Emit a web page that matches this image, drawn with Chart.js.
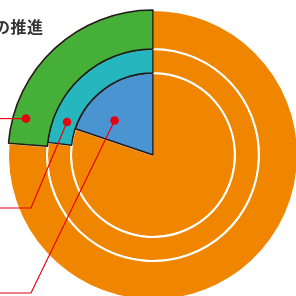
<!DOCTYPE html>
<html><head><meta charset="utf-8">
<script src="https://cdn.jsdelivr.net/npm/chart.js@4"></script>
<style>
html,body{margin:0;padding:0;width:296px;height:296px;overflow:hidden;background:#fff;}
#wrap{position:relative;width:296px;height:296px;overflow:hidden;}
#c{position:absolute;left:-2px;top:0;}
#title{position:absolute;left:-6px;top:14px;font:bold 16px "Noto Sans CJK JP","Noto Sans",sans-serif;color:#333;white-space:nowrap;letter-spacing:0.5px;}
</style></head>
<body><div id="wrap"><canvas id="c" width="310" height="310"></canvas><div id="title">の推進</div></div>
<script>
// ring labels (outer -> inner) and the highlighted share of each ring (%)
const rings = ['outer', 'middle', 'inner'];
const highlighted = [23.7, 23.1, 19.8];
const rest = highlighted.map(v => +(100 - v).toFixed(1));
const ringColors = ['#46AF37', '#26B7BE', '#4A94D2'];
const orange = '#F08600';
const ringWeights = [39, 24, 82];

// callout styling: dot angle (deg) / radial fraction inside the highlighted arc, elbow of leader line
const callouts = [
  {angle: 196, frac: 0.67, elbow: null},
  {angle: 201, frac: 0.42, elbow: [31, 208]},
  {angle: 222, frac: 0.63, elbow: [31, 293]}
];

const calloutPlugin = {
  id: 'callouts',
  afterDatasetsDraw(chart) {
    const ctx = chart.ctx;
    const cx = chart.canvas.offsetLeft;
    callouts.forEach((c, i) => {
      const arc = chart.getDatasetMeta(i).data[1];
      const p = arc.getProps(['x', 'y', 'innerRadius', 'outerRadius']);
      const r = p.innerRadius + c.frac * (p.outerRadius - p.innerRadius);
      const a = c.angle * Math.PI / 180;
      const dx = p.x + r * Math.cos(a), dy = p.y + r * Math.sin(a);
      ctx.save();
      ctx.strokeStyle = '#E60012';
      ctx.lineWidth = 1.2;
      ctx.beginPath();
      ctx.moveTo(dx, dy);
      if (c.elbow) {
        const ex = c.elbow[0] - cx, ey = c.elbow[1];
        ctx.lineTo(ex, ey);
        ctx.lineTo(-cx - 5, ey);
      } else {
        ctx.lineTo(-cx - 5, dy);
      }
      ctx.stroke();
      ctx.fillStyle = '#E60012';
      ctx.beginPath();
      ctx.arc(dx, dy, 4.3, 0, Math.PI * 2);
      ctx.fill();
      ctx.restore();
    });
  }
};

new Chart(document.getElementById('c'), {
  type: 'doughnut',
  data: {
    labels: ['その他', '対象'],
    datasets: rings.map((name, i) => ({
      label: name,
      data: [rest[i], highlighted[i]],
      backgroundColor: [orange, ringColors[i]],
      borderColor: ['#ffffff', '#231815'],
      borderWidth: [2, 1.5],
      weight: ringWeights[i]
    }))
  },
  options: {
    responsive: false,
    animation: false,
    cutout: 0,
    radius: 145,
    layout: {padding: 0},
    plugins: {legend: {display: false}, tooltip: {enabled: false}, title: {display: false}}
  },
  plugins: [calloutPlugin]
});
</script>
</body></html>
